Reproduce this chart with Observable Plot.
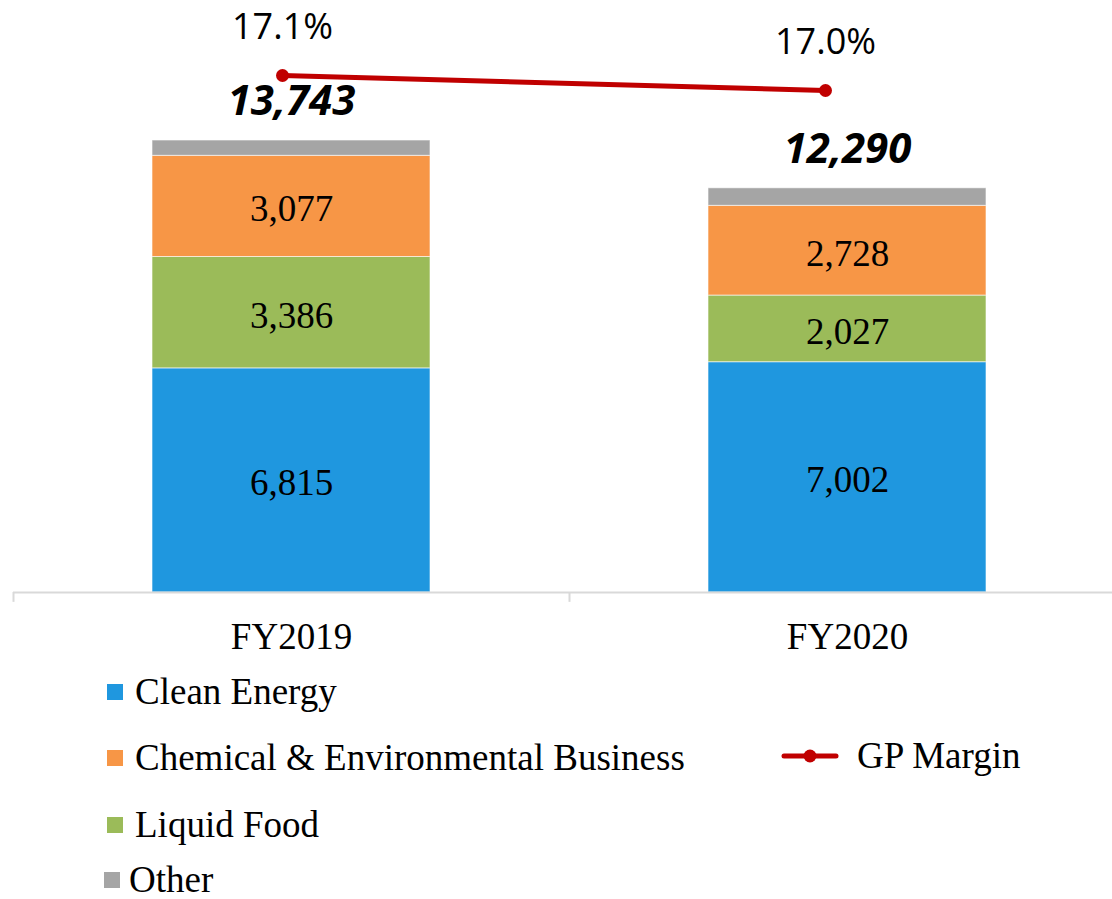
<!DOCTYPE html>
<html>
<head>
<meta charset="utf-8">
<script src="https://cdn.jsdelivr.net/npm/d3@7"></script>
<script src="https://cdn.jsdelivr.net/npm/@observablehq/plot@0.6"></script>
<style>
  html, body { margin: 0; padding: 0; background: #fff; }
  #wrap { position: relative; width: 1112px; height: 899px; overflow: hidden; }
  #wrap svg { position: absolute; left: 0; top: 0; overflow: visible; }
  .lg { position: absolute; font-family: "Liberation Serif", "Times New Roman", serif; font-size: 37px; color: #000; line-height: 0.85; white-space: nowrap; display: flex; align-items: center; }
  .sw { display: inline-block; width: 16px; height: 16px; margin-right: 12px; }
</style>
</head>
<body>
<div id="wrap"></div>
<script>
const years = ["FY2019", "FY2020"];
const segments = ["Clean Energy", "Liquid Food", "Chemical & Environmental Business", "Other"];
const cleanEnergy = [6815, 7002];
const liquidFood = [3386, 2027];
const chemical = [3077, 2728];
const other = [465, 533];
const totals = [13743, 12290];
const gpMargin = [17.1, 17.0];
const colors = ["#1F97DF", "#9BBB59", "#F79646", "#A5A5A5"];

const seriesValues = [cleanEnergy, liquidFood, chemical, other];
const rows = [];
years.forEach((y, i) => {
  segments.forEach((s, j) => rows.push({year: y, segment: s, value: seriesValues[j][i]}));
});
const totalRows = years.map((y, i) => ({year: y, total: totals[i]}));
const marginRows = years.map((y, i) => ({year: y, margin: gpMargin[i]}));
const fmt = d3.format(",");

const wrap = document.getElementById("wrap");

const bars = Plot.plot({
  width: 1112,
  height: 660,
  marginTop: 0,
  marginBottom: 68,
  marginLeft: 13,
  marginRight: 0,
  x: {domain: years, range: [13, 1125], paddingInner: 0.5, paddingOuter: 0.25, label: null},
  y: {domain: [0, 18000], axis: null},
  color: {domain: segments, range: colors},
  style: {background: "transparent"},
  marks: [
    Plot.barY(rows, {x: "year", y: "value", fill: "segment", order: segments, stroke: "#ffffff", strokeOpacity: 0.6, strokeWidth: 1}),
    Plot.text(rows.filter(d => d.segment !== "Other"), Plot.stackY({
      x: "year", y: "value", z: "segment", order: segments, dy: 3,
      text: d => fmt(d.value), fontSize: 37, fontFamily: "Liberation Serif", fill: "#000"
    })),
    Plot.text(totalRows, {x: "year", y: "total", text: d => fmt(d.total), dy: -39, fontSize: 42,
      fontFamily: "Open Sans", fontWeight: "bold", fontStyle: "italic", fill: "#000"}),
    Plot.ruleY([0], {stroke: "#d9d9d9", strokeWidth: 2}),
    Plot.ruleX(years, {x: d => d, dx: -278, y1: 0, y2: -300, stroke: "#d9d9d9", strokeWidth: 2}),
    Plot.axisX({tickSize: 0, tickPadding: 30, fontSize: 37, fontFamily: "Liberation Serif", color: "#000", label: null})
  ]
});
wrap.appendChild(bars);

const line = Plot.plot({
  width: 1112,
  height: 660,
  marginTop: 0,
  marginBottom: 0,
  marginLeft: 0,
  marginRight: 0,
  x: {type: "point", domain: years, range: [282, 825], padding: 0, axis: null},
  y: {domain: [16, 17.6], range: [240, 0], axis: null},
  style: {background: "transparent"},
  marks: [
    Plot.line(marginRows, {x: "year", y: "margin", stroke: "#C00000", strokeWidth: 5}),
    Plot.dot(marginRows, {x: "year", y: "margin", r: 6.5, fill: "#C00000"}),
    Plot.text(marginRows, {x: "year", y: "margin", text: d => d.margin.toFixed(1) + "%", dy: -48,
      fontSize: 36, fontFamily: "Open Sans", fill: "#000"})
  ]
});
wrap.appendChild(line);

// legend
const legendItems = [
  {name: "Clean Energy", color: colors[0], left: 107, cy: 692},
  {name: "Chemical & Environmental Business", color: colors[2], left: 107, cy: 758},
  {name: "Liquid Food", color: colors[1], left: 107, cy: 825},
  {name: "Other", color: colors[3], left: 104, cy: 880, gap: 9}
];
legendItems.forEach(it => {
  const d = document.createElement("div");
  d.className = "lg";
  d.style.left = it.left + "px";
  d.style.top = (it.cy - 16) + "px";
  d.style.height = "32px";
  const sw = document.createElement("span");
  sw.className = "sw";
  sw.style.background = it.color;
  if (it.gap) sw.style.marginRight = it.gap + "px";
  d.appendChild(sw);
  d.appendChild(document.createTextNode(it.name));
  wrap.appendChild(d);
});
const gp = document.createElement("div");
gp.className = "lg";
gp.style.left = "782px";
gp.style.top = (756 - 16) + "px";
gp.style.height = "32px";
gp.innerHTML = '<svg width="56" height="16" style="position:static;margin-right:19px"><line x1="2" y1="8" x2="54" y2="8" stroke="#C00000" stroke-width="5" stroke-linecap="round"/><circle cx="28" cy="8" r="6.5" fill="#C00000"/></svg>GP Margin';
wrap.appendChild(gp);
</script>
</body>
</html>
